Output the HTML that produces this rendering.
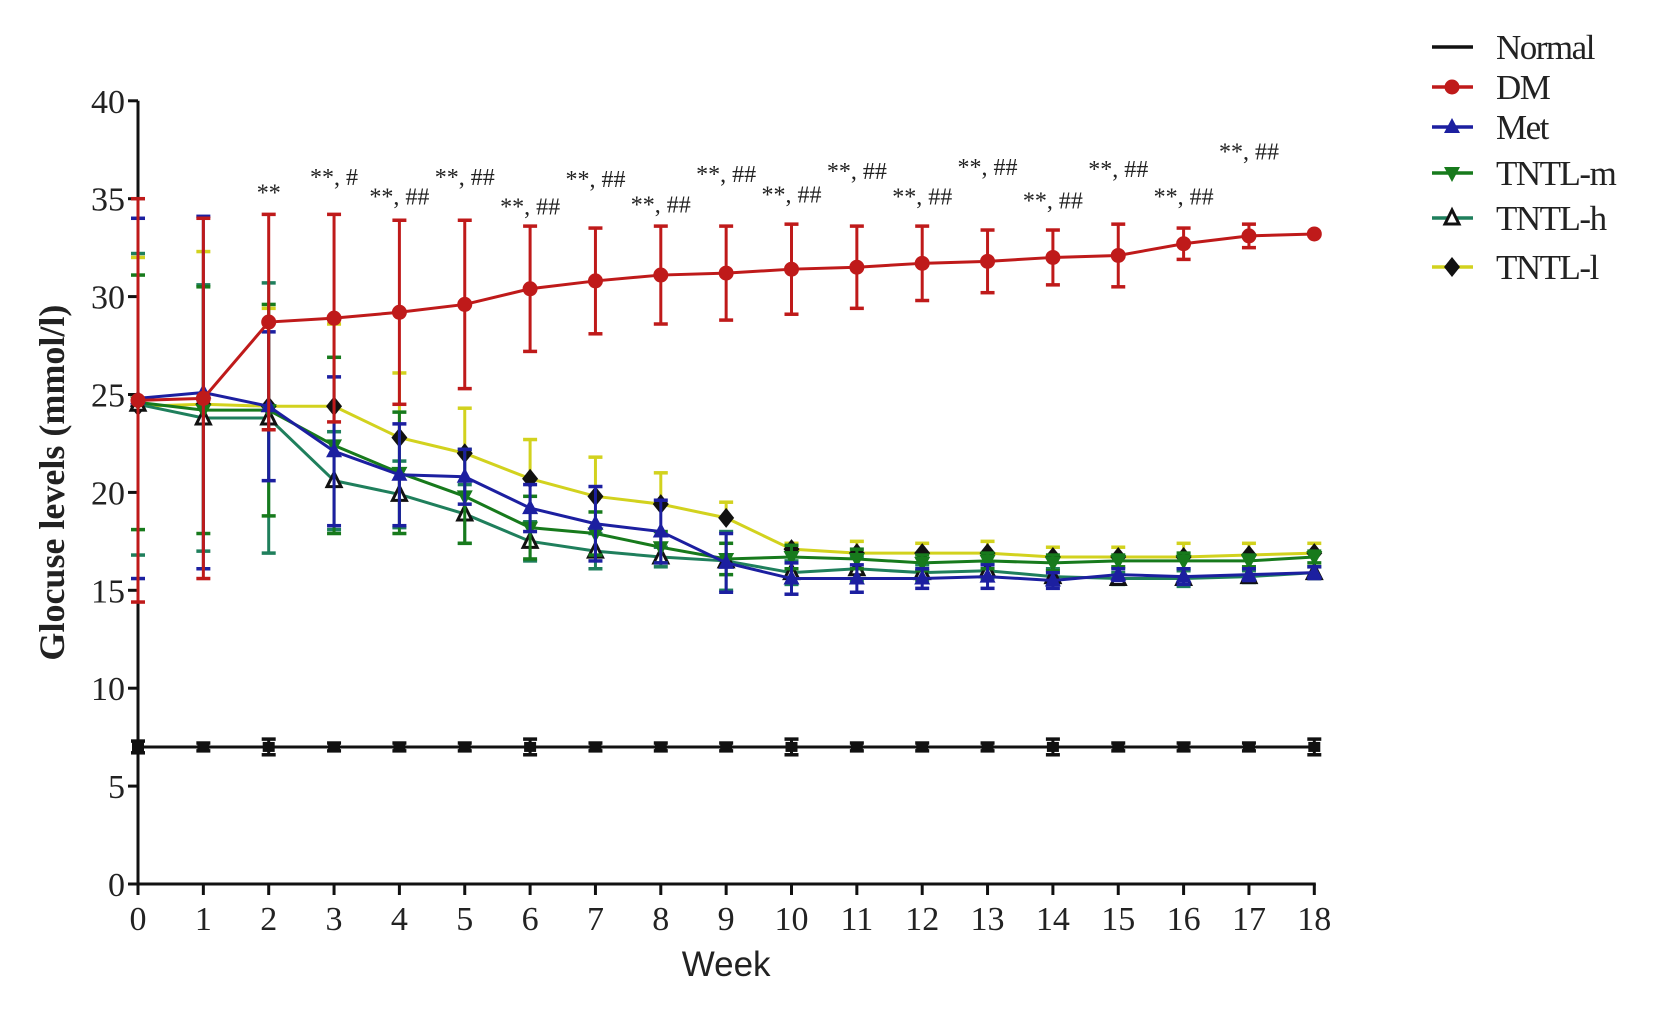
<!DOCTYPE html>
<html><head><meta charset="utf-8"><style>
html,body{margin:0;padding:0;background:#fff;width:1654px;height:1009px;overflow:hidden}
svg{display:block}
text{font-family:"Liberation Serif",serif;fill:#222}
</style></head><body>
<svg id="chart" width="1654" height="1009" viewBox="0 0 1654 1009" xmlns="http://www.w3.org/2000/svg"></svg>
<script>
const weeks=[0,1,2,3,4,5,6,7,8,9,10,11,12,13,14,15,16,17,18];
const yTicks=[0,5,10,15,20,25,30,35,40];
const normalVals=[7,7,7,7,7,7,7,7,7,7,7,7,7,7,7,7,7,7,7];
const normalErr=[0.3,0.2,0.4,0.2,0.2,0.2,0.4,0.2,0.2,0.2,0.4,0.2,0.2,0.2,0.4,0.2,0.2,0.2,0.4];
const dmVals=[24.7,24.8,28.7,28.9,29.2,29.6,30.4,30.8,31.1,31.2,31.4,31.5,31.7,31.8,32.0,32.1,32.7,33.1,33.2];
const dmErr=[10.3,9.2,5.5,5.3,4.7,4.3,3.2,2.7,2.5,2.4,2.3,2.1,1.9,1.6,1.4,1.6,0.8,0.6,0];
const metVals=[24.8,25.1,24.4,22.1,20.9,20.8,19.2,18.4,18.0,16.4,15.6,15.6,15.6,15.7,15.5,15.8,15.7,15.8,15.9];
const metErr=[9.2,9.0,3.8,3.8,2.6,1.4,1.2,1.9,1.6,1.5,0.8,0.7,0.5,0.6,0.4,0.3,0.4,0.3,0.3];
const mVals=[24.6,24.2,24.2,22.4,21.0,19.8,18.2,17.9,17.2,16.6,16.7,16.6,16.4,16.5,16.4,16.5,16.5,16.5,16.7];
const mErr=[6.5,6.3,5.4,4.5,3.1,2.4,1.6,1.1,0.8,0.8,0.6,0.5,0.4,0.4,0.4,0.3,0.4,0.3,0.3];
const hVals=[24.5,23.8,23.8,20.6,19.9,18.9,17.5,17.0,16.7,16.5,15.9,16.1,15.9,16.0,15.7,15.6,15.6,15.7,15.9];
const hErr=[7.7,6.8,6.9,2.5,1.7,1.5,1.0,0.9,0.5,1.5,0.6,0.6,0.4,0.4,0.4,0.3,0.4,0.3,0.3];
const lVals=[24.4,24.5,24.4,24.4,22.8,22.0,20.7,19.8,19.4,18.7,17.1,16.9,16.9,16.9,16.7,16.7,16.7,16.8,16.9];
const lErr=[7.6,7.8,5.0,4.2,3.3,2.3,2.0,2.0,1.6,0.8,0.3,0.6,0.5,0.6,0.5,0.5,0.7,0.6,0.5];
const annWeeks=[2,3,4,5,6,7,8,9,10,11,12,13,14,15,16,17];
const annText=["**","**, #","**, ##","**, ##","**, ##","**, ##","**, ##","**, ##","**, ##","**, ##","**, ##","**, ##","**, ##","**, ##","**, ##","**, ##"];
const annVals=[34.9,35.7,34.7,35.7,34.2,35.6,34.3,35.85,34.8,36.0,34.7,36.2,34.5,36.1,34.7,37.0];

const svg=document.getElementById('chart');
const NS='http://www.w3.org/2000/svg';
const X0=138,XS=65.35,Y0=884,YS=19.58;
const xs=w=>X0+w*XS, ys=v=>Y0-v*YS;
function mk(tag,attrs,parent){const e=document.createElementNS(NS,tag);for(const k in attrs)e.setAttribute(k,attrs[k]);(parent||svg).appendChild(e);return e;}

const axes=mk('g',{});


mk('line',{x1:X0,y1:ys(40),x2:X0,y2:Y0+2,stroke:'#111','stroke-width':3},axes);
mk('line',{x1:X0-2,y1:Y0,x2:xs(18)+1.5,y2:Y0,stroke:'#111','stroke-width':3},axes);
yTicks.forEach(v=>{
  mk('line',{x1:X0-10,y1:ys(v),x2:X0,y2:ys(v),stroke:'#111','stroke-width':3},axes);
  const t=mk('text',{x:X0-13,y:ys(v)+12,'text-anchor':'end','font-size':34},axes);
  t.textContent=v;
  
  
});
weeks.forEach(w=>{
  mk('line',{x1:xs(w),y1:Y0,x2:xs(w),y2:Y0+11,stroke:'#111','stroke-width':3},axes);
  const t=mk('text',{x:xs(w),y:Y0+46,'text-anchor':'middle','font-size':34},axes);
  t.textContent=w;
  
  
});
const xt=mk('text',{x:xs(9),y:976,'text-anchor':'middle','font-size':35,style:'font-family:"Liberation Sans",sans-serif'});
xt.textContent='Week';


const yt=mk('text',{x:0,y:0,'text-anchor':'middle','font-size':36,'font-weight':'bold',transform:'translate(64,'+ys(20.5)+') rotate(-90)'});
yt.textContent='Glocuse levels (mmol/l)';



function marker(g,type,x,y,color){
  if(type==='circle')mk('circle',{cx:x,cy:y,r:7.5,fill:color},g);
  else if(type==='square')mk('rect',{x:x-6,y:y-5,width:12,height:10,fill:color},g);
  else if(type==='tri')mk('polygon',{points:`${x},${y-9} ${x-8},${y+6} ${x+8},${y+6}`,fill:color},g);
  else if(type==='trid')mk('polygon',{points:`${x},${y+9} ${x-8},${y-6} ${x+8},${y-6}`,fill:color},g);
  else if(type==='trio')mk('polygon',{points:`${x},${y-8} ${x-7},${y+6} ${x+7},${y+6}`,fill:'#fff',stroke:'#111','stroke-width':3},g);
  else if(type==='dia')mk('polygon',{points:`${x},${y-10} ${x-8},${y} ${x},${y+10} ${x+8},${y}`,fill:'#111'},g);
}
function series(name,vals,errs,color,mtype,mode){
  const g=mk('g',{});
  
  
  vals.forEach((v,i)=>{
    const x=xs(weeks[i]);const e=errs[i];if(!e)return;
    const top=ys(v+e),bot=ys(v-e);
    const y1=mode==='down'?ys(v):top, y2=mode==='up'?ys(v):bot;
    mk('line',{x1:x,y1:y1,x2:x,y2:y2,stroke:color,'stroke-width':3},g);
    if(mode!=='down')mk('line',{x1:x-7,y1:top,x2:x+7,y2:top,stroke:color,'stroke-width':3.5},g);
    if(mode!=='up')mk('line',{x1:x-7,y1:bot,x2:x+7,y2:bot,stroke:color,'stroke-width':3.5},g);
  });
  mk('polyline',{points:vals.map((v,i)=>xs(weeks[i])+','+ys(v)).join(' '),fill:'none',stroke:color,'stroke-width':3},g);
  vals.forEach((v,i)=>marker(g,mtype,xs(weeks[i]),ys(v),mtype==='dia'?'#111':color));
}
series('normal',normalVals,normalErr,'#111','square','both');
series('tntl-l',lVals,lErr,'#d2d21e','dia','up');
series('tntl-h',hVals,hErr,'#1f7f5c','trio','both');
series('tntl-m',mVals,mErr,'#177a1c','trid','both');
series('met',metVals,metErr,'#1c1fa0','tri','both');
series('dm',dmVals,dmErr,'#bf1a1a','circle','both');

annWeeks.forEach((w,i)=>{
  const t=mk('text',{x:xs(w),y:ys(annVals[i]),'text-anchor':'middle','font-size':24});
  t.textContent=annText[i];
  
  
});

const leg=mk('g',{});


const legNames=['Normal','DM','Met','TNTL-m','TNTL-h','TNTL-l'];
const legColors=['#111','#bf1a1a','#1c1fa0','#177a1c','#1f7f5c','#d2d21e'];
const legMarks=[null,'circle','tri','trid','trio','dia'];
const legY=[47,87,127,173,218,267];
legNames.forEach((n,i)=>{
  const row=mk('g',{},leg);
  
  
  mk('line',{x1:1432,y1:legY[i],x2:1473,y2:legY[i],stroke:legColors[i],'stroke-width':3.5},row);
  if(legMarks[i])marker(row,legMarks[i],1452,legY[i],legColors[i]);
  const t=mk('text',{x:1496,y:legY[i]+12,'font-size':35,'letter-spacing':'-1.5'},row);
  t.textContent=n;
});
</script>
</body></html>
